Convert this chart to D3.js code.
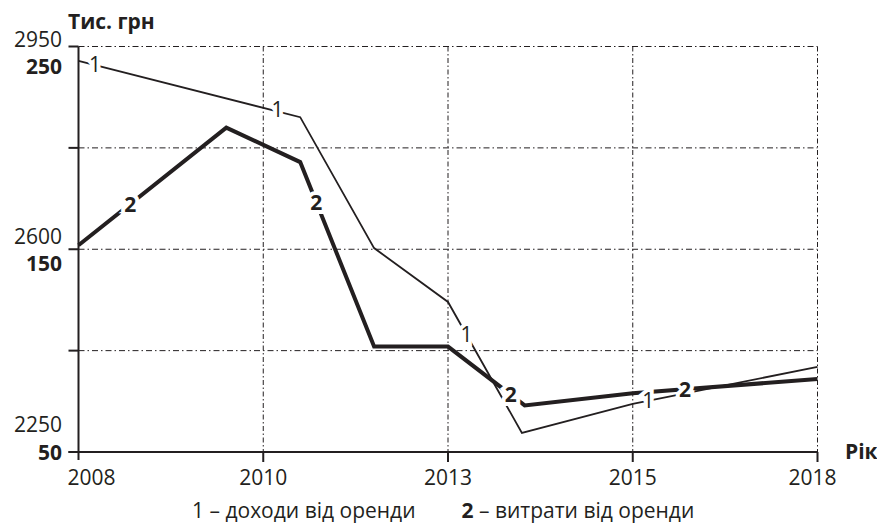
<!DOCTYPE html>
<html>
<head>
<meta charset="utf-8">
<script src="https://cdn.jsdelivr.net/npm/d3@7"></script>
<style>
  html, body { margin: 0; padding: 0; background: #fff; }
  svg { display: block; font-family: 'Open Sans', sans-serif; }
</style>
</head>
<body>
<svg width="877" height="531"></svg>
<script>
// ---------- data ----------

const axisYears = [2008, 2010, 2013, 2015, 2018];

// 1 – доходи від оренди (thin line, left scale 2250…2950)
const incomeYears = [2008, 2010.6, 2011.8, 2013, 2013.8, 2015, 2018];
const incomeValues = [2925, 2828, 2602, 2509, 2283, 2333, 2397];
const incomeLabelYears = [2008.18, 2010.23, 2013.2, 2015.25];

// 2 – витрати від оренди (bold line, bold scale 50…250)
const costYears = [2008, 2009.6, 2010.6, 2011.8, 2013, 2013.83, 2015, 2018];
const costValues = [152, 210, 193, 102, 102, 73, 79, 86];
const costLabelYears = [2008.56, 2010.86, 2013.68, 2015.85];

const incomeTicks = [2250, 2600, 2950];
const costTicks = [50, 150, 250];
const gridLevels = [50, 100, 150, 200, 250];

const legendItems = ['1', '2'];
const legendTexts = [' – доходи від оренди', ' – витрати від оренди'];

// ---------- layout ----------

const X0 = 78.5;
const X1 = 817.5;
const TOP = 46.5;
const BOTTOM = 452;
const INK = '#231f20';
const FONT = 21;

const svg = d3.select('svg');

const step = (X1 - X0) / (axisYears.length - 1);
const x = d3
  .scaleLinear()
  .domain(axisYears)
  .range(axisYears.map((_, i) => X0 + i * step));

const yIncome = d3.scaleLinear().domain([2250, 2950]).range([BOTTOM, TOP]);
const yCost = d3.scaleLinear().domain([50, 250]).range([BOTTOM, TOP]);

// ---------- grid ----------

const grid = svg.append('g').attr('stroke', INK).attr('stroke-width', 1);

grid
  .selectAll('line.h')
  .data(gridLevels.slice(1))
  .join('line')
  .attr('x1', X0)
  .attr('x2', X1)
  .attr('y1', (d) => yCost(d))
  .attr('y2', (d) => yCost(d))
  .attr('stroke-dasharray', '6,3,1.5,3');

grid
  .selectAll('line.v')
  .data(axisYears.slice(1))
  .join('line')
  .attr('x1', (d) => x(d))
  .attr('x2', (d) => x(d))
  .attr('y1', TOP)
  .attr('y2', BOTTOM)
  .attr('stroke-dasharray', '5,2.5,1.5,2.5');

// ---------- axes ----------

const axes = svg.append('g').attr('stroke', INK).attr('stroke-width', 2);

axes.append('line').attr('x1', X0).attr('x2', X0).attr('y1', TOP).attr('y2', BOTTOM + 8);
axes.append('line').attr('x1', X0 - 10).attr('x2', X1).attr('y1', BOTTOM).attr('y2', BOTTOM);

axes
  .selectAll('line.ytick')
  .data(gridLevels)
  .join('line')
  .attr('x1', X0 - 10)
  .attr('x2', X0)
  .attr('y1', (d) => yCost(d))
  .attr('y2', (d) => yCost(d));

axes
  .selectAll('line.xtick')
  .data(axisYears.slice(1))
  .join('line')
  .attr('x1', (d) => x(d))
  .attr('x2', (d) => x(d))
  .attr('y1', BOTTOM)
  .attr('y2', BOTTOM + 10);

// tick labels
const incomeDy = [-20, -5, 0];
const costDy = [8, 22, 27];

svg
  .append('g')
  .attr('fill', INK)
  .attr('font-size', FONT)
  .attr('text-anchor', 'end')
  .selectAll('text')
  .data(incomeTicks)
  .join('text')
  .attr('x', 62)
  .attr('y', (d, i) => yIncome(d) + incomeDy[i])
  .text((d) => d);

svg
  .append('g')
  .attr('fill', INK)
  .attr('font-size', FONT)
  .attr('font-weight', 'bold')
  .attr('text-anchor', 'end')
  .selectAll('text')
  .data(costTicks)
  .join('text')
  .attr('x', 62)
  .attr('y', (d, i) => yCost(d) + costDy[i])
  .text((d) => d);

const yearLabelX = (d, i) => {
  if (i === 0) return X0 - 11;
  if (i === axisYears.length - 1) return x(d) - 5;
  return x(d);
};

svg
  .append('g')
  .attr('fill', INK)
  .attr('font-size', FONT)
  .selectAll('text')
  .data(axisYears)
  .join('text')
  .attr('x', yearLabelX)
  .attr('y', 485)
  .attr('text-anchor', (d, i) => (i === 0 ? 'start' : 'middle'))
  .text((d) => d);

svg
  .append('text')
  .attr('x', 68)
  .attr('y', 29)
  .attr('fill', INK)
  .attr('font-size', FONT)
  .attr('font-weight', 'bold')
  .text('Тис. грн');

svg
  .append('text')
  .attr('x', 845)
  .attr('y', 459)
  .attr('fill', INK)
  .attr('font-size', FONT)
  .attr('font-weight', 'bold')
  .text('Рік');

// ---------- series ----------

const incomePoints = d3.zip(incomeYears, incomeValues);
const costPoints = d3.zip(costYears, costValues);

svg
  .append('path')
  .datum(incomePoints)
  .attr('fill', 'none')
  .attr('stroke', INK)
  .attr('stroke-width', 1.8)
  .attr('d', d3.line().x((d) => x(d[0])).y((d) => yIncome(d[1])));

svg
  .append('path')
  .datum(costPoints)
  .attr('fill', 'none')
  .attr('stroke', INK)
  .attr('stroke-width', 4)
  .attr('d', d3.line().x((d) => x(d[0])).y((d) => yCost(d[1])));

// in-line labels with a white halo that breaks the lines
const incomeAt = d3.scaleLinear().domain(incomeYears).range(incomeValues);
const costAt = d3.scaleLinear().domain(costYears).range(costValues);

const labels = [
  ...incomeLabelYears.map((yr) => ({ t: '1', bold: false, px: x(yr), py: yIncome(incomeAt(yr)) })),
  ...costLabelYears.map((yr) => ({ t: '2', bold: true, px: x(yr), py: yCost(costAt(yr)) })),
];

svg
  .append('g')
  .attr('font-size', FONT)
  .attr('text-anchor', 'middle')
  .selectAll('text')
  .data(labels)
  .join('text')
  .attr('x', (d) => d.px)
  .attr('y', (d) => d.py + 7.5)
  .attr('font-weight', (d) => (d.bold ? 'bold' : 'normal'))
  .attr('fill', INK)
  .attr('stroke', '#fff')
  .attr('stroke-width', 8)
  .attr('paint-order', 'stroke')
  .text((d) => d.t);

// ---------- legend ----------

const legend = svg
  .append('text')
  .attr('x', 192)
  .attr('y', 518)
  .attr('fill', INK)
  .attr('font-size', FONT);

legendItems.forEach((item, i) => {
  legend
    .append('tspan')
    .attr('dx', i === 0 ? 0 : 46)
    .attr('font-weight', i === 0 ? 'normal' : 'bold')
    .text(item);
  legend.append('tspan').text(legendTexts[i]);
});
</script>
</body>
</html>
